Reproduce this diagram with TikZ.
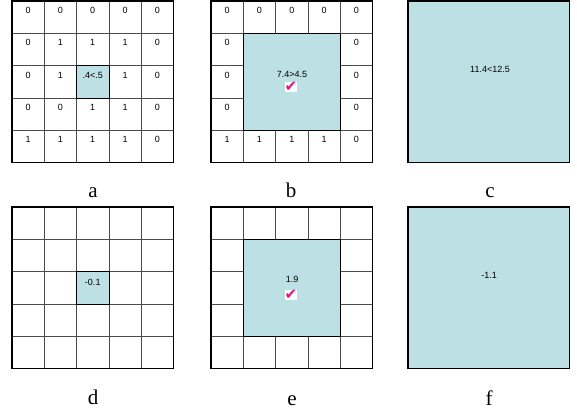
\documentclass[tikz,border=0pt]{standalone}
\usepackage{fontspec}
\setmainfont{Liberation Serif}
\newfontfamily\cellfont{Liberation Sans}
\newfontfamily\tickfont{DejaVu Sans}
\definecolor{cellblue}{RGB}{188,224,227}
\definecolor{tickred}{RGB}{226,20,126}
\newcommand{\cs}{32.3}

\begin{document}
\begin{tikzpicture}[x=1pt, y=-1pt, line width=0.8pt,
  inner/.style={draw=black!70, line width=0.8pt},
  outer/.style={draw=black, line width=1.5pt},
  shade/.style={fill=cellblue, draw=black, line width=0.8pt},
  val/.style={font=\cellfont\fontsize{9}{10}\selectfont, inner sep=0pt, anchor=base},
  lab/.style={font=\fontsize{21}{24}\selectfont, inner sep=0pt, anchor=base},
  tickbox/.style={fill=white, text=tickred, inner sep=0pt, font=\tickfont\fontsize{15}{15}\selectfont}]
  \useasboundingbox (0,0) rectangle (577,415);

  % a
  \foreach \i in {1,...,4} {
    \draw[inner] ({12+\i*\cs},1) -- ++(0,5*\cs);
    \draw[inner] (12,{1+\i*\cs}) -- ++(5*\cs,0);
  }
  \draw[shade] ({12+2*\cs},{1+2*\cs}) rectangle ++(\cs,\cs);
  \draw[outer] (12,1) rectangle ++(5*\cs,5*\cs);
  \foreach \vals [count=\r from 0] in {{0,0,0,0,0},{0,1,1,1,0},{0,1,,1,0},{0,0,1,1,0},{1,1,1,1,0}}
    \foreach \v [count=\c from 0] in \vals {
      \ifx\v\empty\else
        \node[val] (a-\r-\c) at ({12+(\c+0.5)*\cs},{1+\r*\cs+12.5}) {\v};
      \fi
    }
  \node[val] (a-mid) at ({12+2.5*\cs},{1+2*\cs+12.5}) {.4<.5};
  \node[lab] (lab-a) at (93,197) {a};

  % b
  \foreach \i in {1,...,4} {
    \draw[inner] ({211+\i*\cs},1) -- ++(0,5*\cs);
    \draw[inner] (211,{1+\i*\cs}) -- ++(5*\cs,0);
  }
  \draw[shade] ({211+\cs},{1+\cs}) rectangle ++(3*\cs,3*\cs);
  \draw[outer] (211,1) rectangle ++(5*\cs,5*\cs);
  \foreach \vals [count=\r from 0] in {{0,0,0,0,0},{0,,,,0},{0,,,,0},{0,,,,0},{1,1,1,1,0}}
    \foreach \v [count=\c from 0] in \vals {
      \ifx\v\empty\else
        \node[val] (b-\r-\c) at ({211+(\c+0.5)*\cs},{1+\r*\cs+12.5}) {\v};
      \fi
    }
  \node[val] (b-mid) at (292,77) {7.4>4.5};
  \node[tickbox] (b-tick) at (291,87) {✔};
  \node[lab] (lab-b) at (291,197) {b};

  % c
  \draw[shade, line width=1.5pt] (408,1) rectangle ++(5*\cs,5*\cs);
  \node[val] (c-mid) at (490,72.5) {11.4<12.5};
  \node[lab] (lab-c) at (490,197) {c};

  % d
  \foreach \i in {1,...,4} {
    \draw[inner] ({12+\i*\cs},207) -- ++(0,5*\cs);
    \draw[inner] (12,{207+\i*\cs}) -- ++(5*\cs,0);
  }
  \draw[shade] ({12+2*\cs},{207+2*\cs}) rectangle ++(\cs,\cs);
  \draw[outer] (12,207) rectangle ++(5*\cs,5*\cs);
  \node[val] (d-mid) at ({12+2.5*\cs},{207+2*\cs+14}) {-0.1};
  \node[lab] (lab-d) at (93,404) {d};

  % e
  \foreach \i in {1,...,4} {
    \draw[inner] ({211+\i*\cs},207) -- ++(0,5*\cs);
    \draw[inner] (211,{207+\i*\cs}) -- ++(5*\cs,0);
  }
  \draw[shade] ({211+\cs},{207+\cs}) rectangle ++(3*\cs,3*\cs);
  \draw[outer] (211,207) rectangle ++(5*\cs,5*\cs);
  \node[val] (e-mid) at (292,282.5) {1.9};
  \node[tickbox] (e-tick) at (291,295) {✔};
  \node[lab] (lab-e) at (292,405) {e};

  % f
  \draw[shade, line width=1.5pt] (408,207) rectangle ++(5*\cs,5*\cs);
  \node[val] (f-mid) at (489,278.5) {-1.1};
  \node[lab] (lab-f) at (489,405) {f};
\end{tikzpicture}
\end{document}
